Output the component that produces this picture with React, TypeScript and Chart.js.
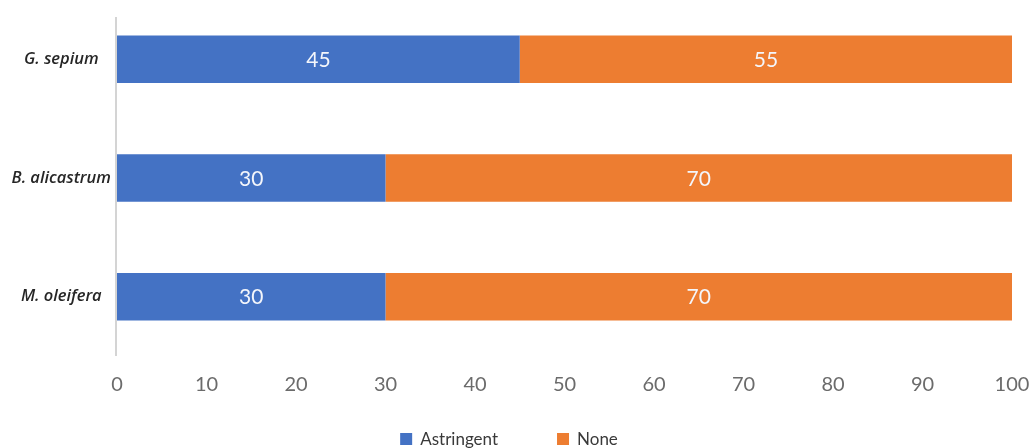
import React, { useEffect, useRef } from "react";
import { Chart, registerables } from "chart.js";

Chart.register(...registerables);

const species = ["G. sepium", "B. alicastrum", "M. oleifera"];
const astringent = [45, 30, 30];
const none = [55, 70, 70];
const seriesNames = ["Astringent", "None"];
const seriesColors = ["#4472C4", "#ED7D31"];
const xTicks = [0, 10, 20, 30, 40, 50, 60, 70, 80, 90, 100];

const FONT = "Lato, 'Open Sans', sans-serif";

// Writes each segment's value in the middle of its bar piece.
const segmentLabels = {
  id: "segmentLabels",
  afterDatasetsDraw(chart: any) {
    const { ctx } = chart;
    ctx.save();
    ctx.font = `21px ${FONT}`;
    ctx.fillStyle = "#f4f6fb";
    ctx.textAlign = "center";
    ctx.textBaseline = "middle";
    chart.data.datasets.forEach((ds: any, di: number) => {
      const meta = chart.getDatasetMeta(di);
      meta.data.forEach((el: any, i: number) => {
        const { x, base, y } = el.getProps(["x", "base", "y"], true);
        ctx.fillText(String(ds.data[i]), (x + base) / 2, y + 1);
      });
    });
    ctx.restore();
  },
};

// Vertical category axis line, plus a legend centred under the plot.
const axisAndLegend = {
  id: "axisAndLegend",
  afterDraw(chart: any) {
    const { ctx, chartArea, width } = chart;
    ctx.save();
    ctx.strokeStyle = "#d4d4d4";
    ctx.lineWidth = 2;
    ctx.beginPath();
    ctx.moveTo(chartArea.left - 1, chartArea.top + 17);
    ctx.lineTo(chartArea.left - 1, chartArea.bottom);
    ctx.stroke();

    ctx.font = `17px ${FONT}`;
    ctx.textBaseline = "middle";
    ctx.textAlign = "left";
    const box = 12;
    const gapText = 8;
    const gapItem = 59;
    const widths = chart.data.datasets.map((ds: any) => ctx.measureText(ds.label).width);
    const total =
      widths.reduce((a: number, w: number) => a + box + gapText + w, 0) +
      gapItem * (widths.length - 1);
    let x = width / 2 - total / 2 - 7;
    const y = 439;
    chart.data.datasets.forEach((ds: any, i: number) => {
      ctx.fillStyle = ds.backgroundColor;
      ctx.fillRect(x, y - box / 2, box, box);
      ctx.fillStyle = "#3a3a3a";
      ctx.fillText(ds.label, x + box + gapText, y + 1);
      x += box + gapText + widths[i] + gapItem;
    });
    ctx.restore();
  },
};

export default function App() {
  const canvasRef = useRef<HTMLCanvasElement | null>(null);

  useEffect(() => {
    if (!canvasRef.current) return;
    const chart = new Chart(canvasRef.current, {
      type: "bar",
      data: {
        labels: species,
        datasets: [
          { label: seriesNames[0], data: astringent, backgroundColor: seriesColors[0] },
          { label: seriesNames[1], data: none, backgroundColor: seriesColors[1] },
        ],
      },
      options: {
        indexAxis: "y",
        responsive: true,
        maintainAspectRatio: false,
        animation: false,
        layout: { padding: { top: 0, right: 20, bottom: 40, left: 0 } },
        datasets: {
          bar: { barPercentage: 1, categoryPercentage: 0.4, borderWidth: 0 },
        },
        plugins: {
          legend: { display: false },
          tooltip: { enabled: false },
        },
        scales: {
          x: {
            stacked: true,
            min: 0,
            max: 100,
            afterBuildTicks(scale: any) {
              scale.ticks = xTicks.map((v) => ({ value: v }));
            },
            afterFit(scale: any) {
              scale.height = 52;
              scale.paddingLeft = 0;
              scale.paddingRight = 0;
            },
            grid: { display: false, drawTicks: false },
            border: { display: false },
            ticks: {
              padding: 17,
              color: "#6b6b6b",
              font: { family: FONT, size: 20 },
              maxRotation: 0,
              autoSkip: false,
            },
          },
          y: {
            stacked: true,
            afterFit(scale: any) {
              scale.width = 117;
              scale.paddingTop = 0;
              scale.paddingBottom = 0;
            },
            grid: { display: false, drawTicks: false },
            border: { display: false },
            ticks: {
              padding: 6,
              crossAlign: "center",
              color: "#262626",
              font: { family: "'Open Sans', sans-serif", size: 16.5, style: "italic", weight: "600" },
            },
          },
        },
      },
      plugins: [segmentLabels, axisAndLegend],
    });
    return () => chart.destroy();
  }, []);

  return (
    <div style={{ position: "fixed", left: 0, top: 0, width: 1032, height: 448, background: "#fff" }}>
      <canvas ref={canvasRef} />
    </div>
  );
}
